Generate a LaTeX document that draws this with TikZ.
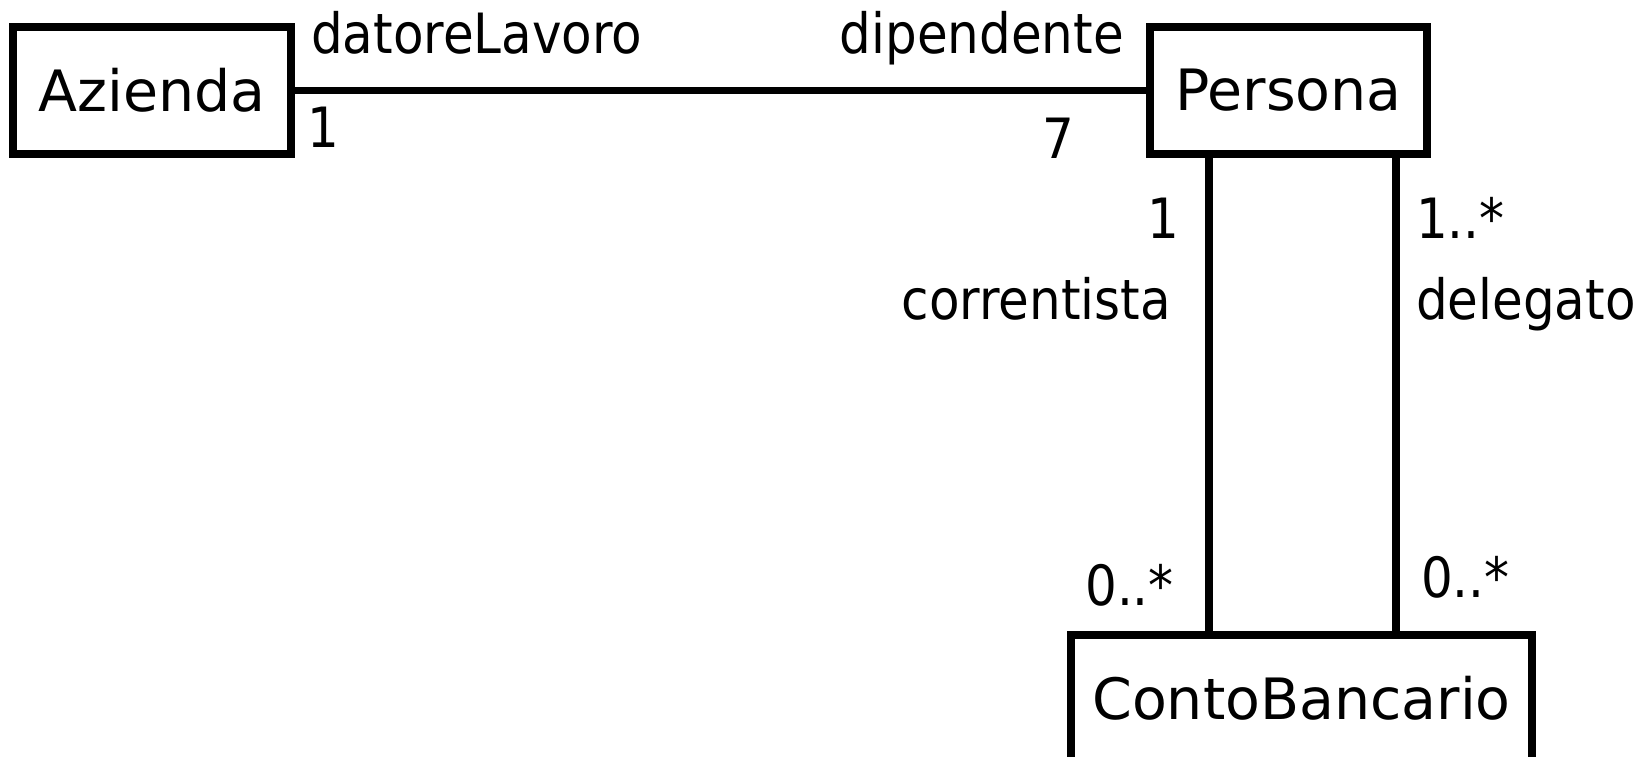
\documentclass[tikz,border=0pt]{standalone}
\usepackage{fontspec}
\setmainfont{DejaVu Sans}[FakeStretch=0.9]
\newfontfamily\classfont{DejaVu Sans}
\begin{document}
\begin{tikzpicture}[x=1pt,y=-1pt,
  classbox/.style={draw=black,line width=8.5pt,fill=white,inner sep=0pt,
    minimum height=127pt,font=\classfont\fontsize{57}{66}\selectfont},
  assoc/.style={draw=black,line width=7.5pt},
  lbl/.style={inner sep=0pt,font=\fontsize{55.5}{66}\selectfont}]
\useasboundingbox (0,0) rectangle (1651,756);
\clip (0,0) rectangle (1651,756);
\fill[white] (0,0) rectangle (1651,756);

% classes
\node[classbox,minimum width=278pt] (Azienda) at (152,90.5) {Azienda};
\node[classbox,minimum width=277pt] (Persona) at (1288.5,90.5) {Persona};
\node[classbox,minimum width=461pt] (ContoBancario) at (1301.5,698.5) {ContoBancario};

% associations
\draw[assoc] (Azienda.east) -- (Persona.west);
\coordinate (pc) at ([xshift=-79.5pt]Persona.south);
\coordinate (pd) at ([xshift=107.5pt]Persona.south);
\draw[assoc] (pc) -- (pc |- ContoBancario.north);
\draw[assoc] (pd) -- (pd |- ContoBancario.north);

% roles and multiplicities
\node[lbl,anchor=base west] (rdatore) at (311,53) {datoreLavoro};
\node[lbl,anchor=base west] (mdatore) at (307,147) {1};
\node[lbl,anchor=base east] (rdip) at (1124,53) {dipendente};
\node[lbl,anchor=base east] (mdip) at (1074,158) {7};
\node[lbl,anchor=base east] (mcorr) at (1179,238) {1};
\node[lbl,anchor=base east] (rcorr) at (1171,319) {correntista};
\node[lbl,anchor=base east] (mconto1) at (1174,605) {0..*};
\node[lbl,anchor=base west] (mdel) at (1416,238) {1..*};
\node[lbl,anchor=base west] (rdel) at (1416,319) {delegato};
\node[lbl,anchor=base west] (mconto2) at (1421,597) {0..*};
\end{tikzpicture}
\end{document}
